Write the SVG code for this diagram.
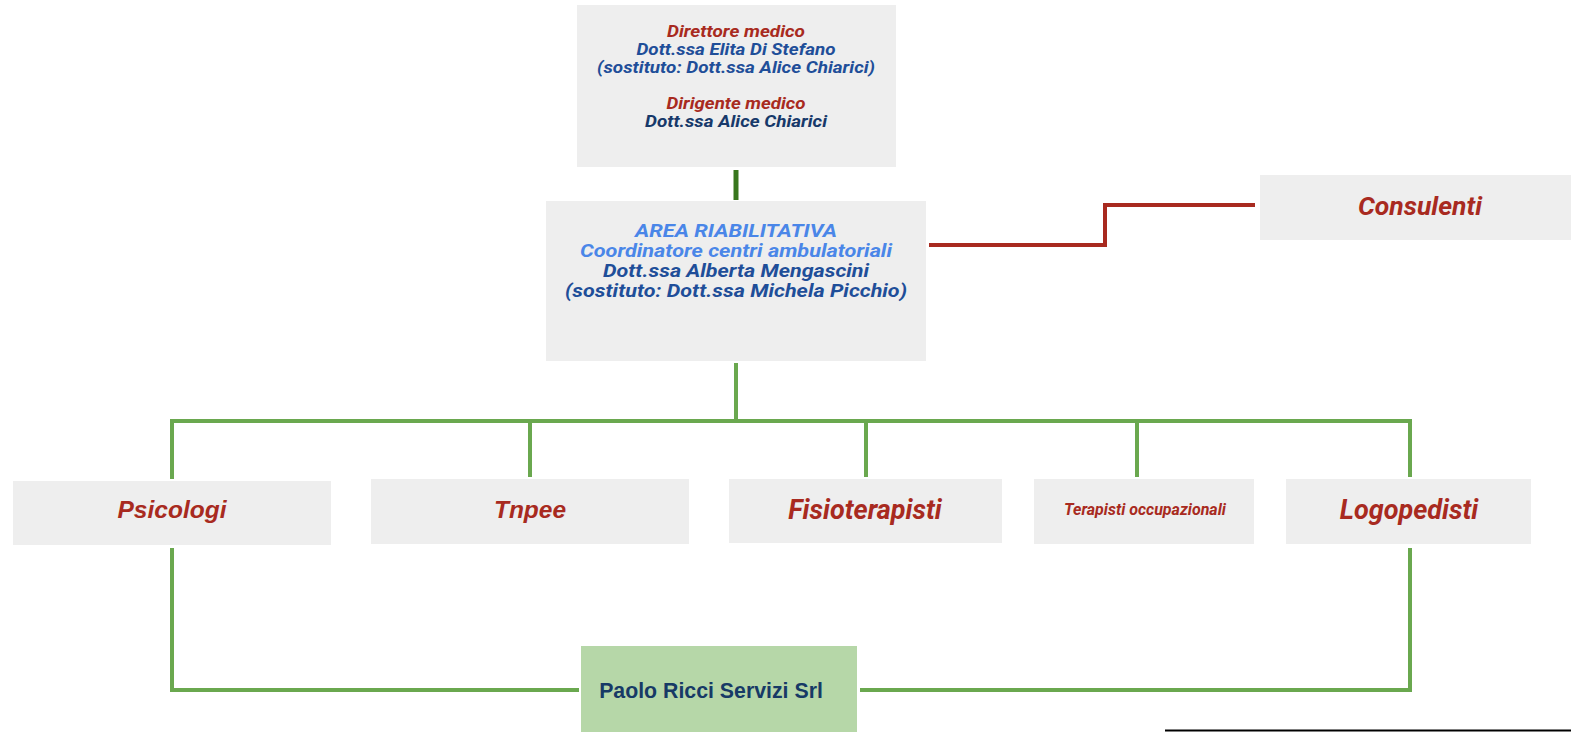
<svg xmlns="http://www.w3.org/2000/svg" width="1571" height="732" viewBox="0 0 1571 732">
<style>
.box{fill:#eeeeee}
.r{font-family:Roboto,"Liberation Sans",sans-serif;font-weight:bold;font-style:italic;text-anchor:middle}
.a{font-family:"Liberation Sans",Arial,sans-serif;font-weight:bold;text-anchor:middle}
.red{fill:#a82a20}
.lb{fill:#4a86e8}
.db{fill:#1f4e99}
.nv{fill:#17396a}
.g{stroke:#6aa84f;stroke-width:4;fill:none}
</style>
<rect width="1571" height="732" fill="#ffffff"/>
<g id="connectors">
<line x1="736" y1="170" x2="736" y2="200" stroke="#38761d" stroke-width="5"/>
<polyline points="929,245 1105,245 1105,205 1255,205" fill="none" stroke="#a82a20" stroke-width="4"/>
<line class="g" x1="736" y1="363" x2="736" y2="421"/>
<polyline class="g" points="172,479 172,421 1410,421 1410,477"/>
<line class="g" x1="530" y1="421" x2="530" y2="477"/>
<line class="g" x1="866" y1="421" x2="866" y2="477"/>
<line class="g" x1="1137" y1="421" x2="1137" y2="477"/>
<polyline class="g" points="172,548 172,690 579,690"/>
<polyline class="g" points="860,690 1410,690 1410,548"/>
</g>
<g id="direttore">
<rect class="box" x="577" y="5" width="319" height="162"/>
<text class="r red" x="736" y="37" font-size="16.5" textLength="138" lengthAdjust="spacingAndGlyphs">Direttore medico</text>
<text class="r db" x="736" y="55" font-size="16.5" textLength="199" lengthAdjust="spacingAndGlyphs">Dott.ssa Elita Di Stefano</text>
<text class="r db" x="736" y="73" font-size="16.5" textLength="278" lengthAdjust="spacingAndGlyphs">(sostituto: Dott.ssa Alice Chiarici)</text>
<text class="r red" x="736" y="109" font-size="16.5" textLength="139" lengthAdjust="spacingAndGlyphs">Dirigente medico</text>
<text class="r nv" x="736" y="127" font-size="16.5" textLength="182" lengthAdjust="spacingAndGlyphs">Dott.ssa Alice Chiarici</text>
</g>
<g id="area">
<rect class="box" x="546" y="201" width="380" height="160"/>
<text class="r lb" x="736" y="237" font-size="19" textLength="202" lengthAdjust="spacingAndGlyphs">AREA RIABILITATIVA</text>
<text class="r lb" x="736" y="257" font-size="19" textLength="312" lengthAdjust="spacingAndGlyphs">Coordinatore centri ambulatoriali</text>
<text class="r db" x="736" y="277" font-size="19" textLength="266" lengthAdjust="spacingAndGlyphs">Dott.ssa Alberta Mengascini</text>
<text class="r db" x="736" y="297" font-size="19" textLength="342" lengthAdjust="spacingAndGlyphs">(sostituto: Dott.ssa Michela Picchio)</text>
</g>
<g id="consulenti">
<rect class="box" x="1260" y="175" width="311" height="65"/>
<text class="r red" x="1420" y="215" font-size="26.5">Consulenti</text>
</g>
<g id="psicologi">
<rect class="box" x="13" y="481" width="318" height="64"/>
<text class="a red" x="172" y="518" font-size="24.5" font-style="italic">Psicologi</text>
</g>
<g id="tnpee">
<rect class="box" x="371" y="479" width="318" height="65"/>
<text class="a red" x="530" y="518" font-size="24.5" font-style="italic">Tnpee</text>
</g>
<g id="fisioterapisti">
<rect class="box" x="729" y="479" width="273" height="64"/>
<text class="r red" x="865" y="519" font-size="27">Fisioterapisti</text>
</g>
<g id="terapisti">
<rect class="box" x="1034" y="479" width="220" height="65"/>
<text class="r red" x="1145" y="515" font-size="16">Terapisti occupazionali</text>
</g>
<g id="logopedisti">
<rect class="box" x="1286" y="479" width="245" height="65"/>
<text class="r red" x="1409" y="519" font-size="27">Logopedisti</text>
</g>
<g id="paolo">
<rect x="581" y="646" width="276" height="86" fill="#b6d7a8"/>
<text class="a" x="711" y="698" font-size="21.3" fill="#173a66">Paolo Ricci Servizi Srl</text>
</g>
<line x1="1165" y1="730.5" x2="1571" y2="730.5" stroke="#000000" stroke-width="2"/>
</svg>
